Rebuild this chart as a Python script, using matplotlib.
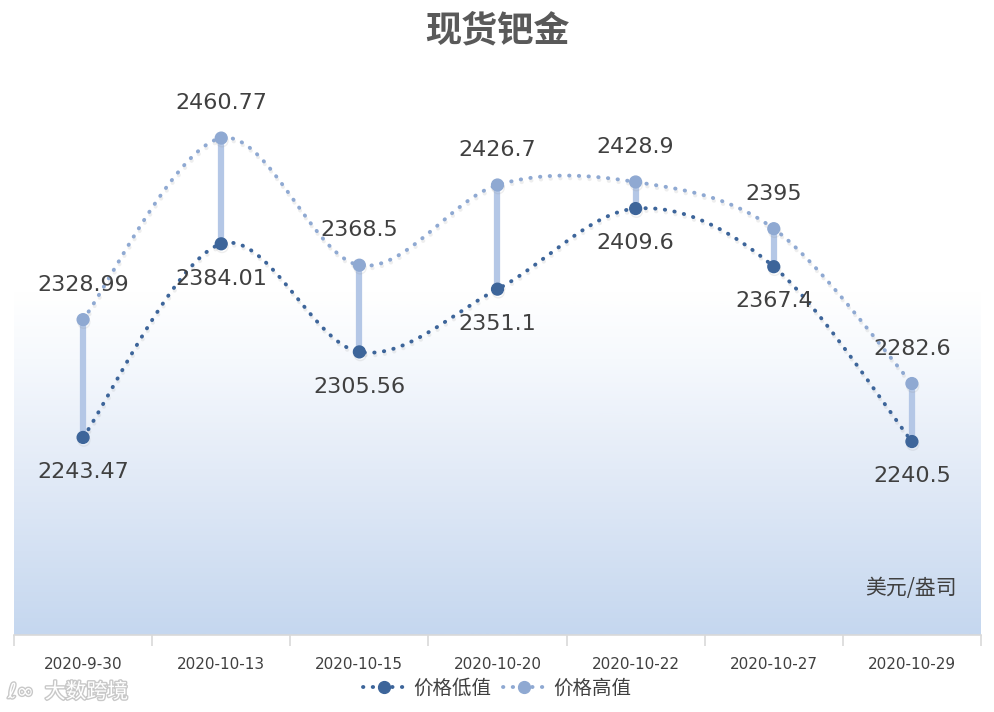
import numpy as np
import matplotlib
matplotlib.use("Agg")
import matplotlib.pyplot as plt
import matplotlib.patheffects as pe
from matplotlib.colors import LinearSegmentedColormap
from matplotlib.lines import Line2D

plt.rcParams['font.family'] = ['DejaVu Sans', 'Noto Sans CJK SC']

dates = ['2020-9-30', '2020-10-13', '2020-10-15', '2020-10-20',
         '2020-10-22', '2020-10-27', '2020-10-29']
low = [2243.47, 2384.01, 2305.56, 2351.1, 2409.6, 2367.4, 2240.5]
high = [2328.99, 2460.77, 2368.5, 2426.7, 2428.9, 2395, 2282.6]
low_labels = ['2243.47', '2384.01', '2305.56', '2351.1', '2409.6', '2367.4', '2240.5']
high_labels = ['2328.99', '2460.77', '2368.5', '2426.7', '2428.9', '2395', '2282.6']

c_low = '#3d659a'
c_high = '#8fa9d2'
c_bar = '#b4c7e6'
c_text = '#404040'
dots = (0, (0.1, 2.4))


def smooth(xs, ys, n=40):
    # excel style smoothing: cubic bezier, control points from neighbours / 6
    pts = np.column_stack([np.asarray(xs, float), np.asarray(ys, float)])
    out = []
    for i in range(len(pts) - 1):
        p0 = pts[max(i - 1, 0)]
        p1 = pts[i]
        p2 = pts[i + 1]
        p3 = pts[min(i + 2, len(pts) - 1)]
        c1 = p1 + (p2 - p0) / 6
        c2 = p2 - (p3 - p1) / 6
        t = np.linspace(0, 1, n)[:, None]
        seg = ((1 - t) ** 3 * p1 + 3 * (1 - t) ** 2 * t * c1
               + 3 * (1 - t) * t ** 2 * c2 + t ** 3 * p2)
        out.append(seg if i == 0 else seg[1:])
    out = np.vstack(out)
    return out[:, 0], out[:, 1]


fig = plt.figure(figsize=(9.94, 7.12), dpi=100)
ax = fig.add_axes([0.0141, 0.108, 0.9728, 0.774])
ax.set_xlim(-0.5, len(dates) - 0.5)
ax.set_ylim(2100, 2500)

# gradient background
cmap = LinearSegmentedColormap.from_list(
    'bg', [(0, '#c5d7ef'), (0.3, '#e3ebf7'), (0.5, '#f6f9fd'), (0.62, '#ffffff'), (1, '#ffffff')])
grad = np.linspace(0, 1, 512)[:, None]
ax.imshow(grad, aspect='auto', cmap=cmap, origin='lower', interpolation='bilinear',
          extent=[-0.5, len(dates) - 0.5, 2100, 2500], zorder=0)

x = np.arange(len(dates))
shadow = [pe.SimpleLineShadow(offset=(0.6, -2.0), shadow_color='#909090', alpha=0.15), pe.Normal()]

sx, sy = smooth(x, high)
ax.plot(sx, sy, color=c_high, lw=2.8, linestyle=dots,
        dash_capstyle='round', zorder=2, path_effects=shadow)
sx, sy = smooth(x, low)
ax.plot(sx, sy, color=c_low, lw=2.8, linestyle=dots,
        dash_capstyle='round', zorder=2, path_effects=shadow)

ax.vlines(x, low, high, color=c_bar, lw=4.5, zorder=3)

ax.plot(x, high, 'o', color=c_high, ms=8.5, zorder=4, path_effects=shadow)
ax.plot(x, low, 'o', color=c_low, ms=8.5, zorder=4, path_effects=shadow)

for xi, v, s in zip(x, high, high_labels):
    ax.annotate(s, (xi, v), xytext=(0, 25), textcoords='offset points',
                ha='center', va='center', fontsize=16, color=c_text, zorder=5)
for xi, v, s in zip(x, low, low_labels):
    ax.annotate(s, (xi, v), xytext=(0, -25), textcoords='offset points',
                ha='center', va='center', fontsize=16, color=c_text, zorder=5)

# axes styling
for side in ['top', 'left', 'right']:
    ax.spines[side].set_visible(False)
ax.spines['bottom'].set_color('#d9d9d9')
ax.spines['bottom'].set_linewidth(1.2)
ax.set_yticks([])
ax.set_xticks(x)
ax.set_xticklabels(dates, fontsize=11, color=c_text)
ax.set_xticks(np.arange(-0.5, len(dates)), minor=True)
ax.tick_params(axis='x', which='major', length=0, pad=16)
ax.tick_params(axis='x', which='minor', length=8, color='#d9d9d9', width=1.2)

ax.text(0.975, 0.085, '美元/盎司', transform=ax.transAxes, ha='right', va='center',
        fontsize=15, color=c_text, family=['Noto Sans CJK SC', 'DejaVu Sans'])

fig.text(0.5, 0.956, '现货钯金', ha='center', va='center', fontsize=26,
         fontweight='bold', color='#595959', family=['Noto Sans CJK SC', 'DejaVu Sans'])

handles = [
    Line2D([0], [0], color=c_low, lw=2.8, linestyle=dots,
           dash_capstyle='round', marker='o', ms=8.5),
    Line2D([0], [0], color=c_high, lw=2.8, linestyle=dots,
           dash_capstyle='round', marker='o', ms=8.5),
]
fig.legend(handles, ['价格低值', '价格高值'], loc='center', bbox_to_anchor=(0.5, 0.033),
           ncol=2, frameon=False, handlelength=2.2, handletextpad=0.4, columnspacing=0.6,
           prop={'family': ['Noto Sans CJK SC', 'DejaVu Sans'], 'size': 14},
           labelcolor=c_text)

# watermark
fig.text(0.045, 0.028, '大数跨境', ha='left', va='center', fontsize=15,
         color='#ffffff', family=['Noto Sans CJK SC', 'DejaVu Sans'],
         path_effects=[pe.withStroke(linewidth=2, foreground='#c8c8c8')])
fig.text(0.008, 0.028, 'ℓ∞', ha='left', va='center', fontsize=15, color='#ffffff',
         path_effects=[pe.withStroke(linewidth=2, foreground='#c8c8c8')])

fig.savefig('out.png', dpi=100, facecolor='white')
